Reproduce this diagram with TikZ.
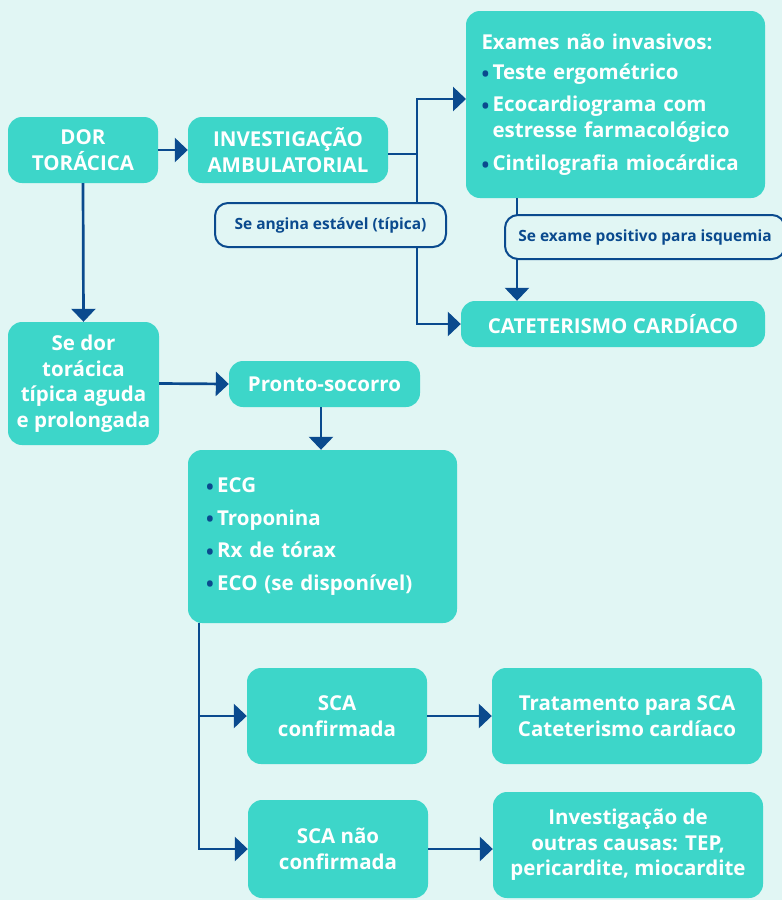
\documentclass[tikz,border=0pt]{standalone}
\usepackage{fontspec}
\setmainfont{Open Sans}
\usetikzlibrary{arrows.meta}
\definecolor{bgmint}{HTML}{E1F6F4}
\definecolor{boxteal}{HTML}{3DD6C9}
\definecolor{darkblue}{HTML}{0A4A8E}
\newcommand{\bul}{\textcolor{darkblue}{\raisebox{-0.15ex}{•}}\,}

\tikzset{
  stepbox/.style={fill=boxteal, rounded corners=14pt, text=white, align=center,
    font=\fontsize{20.5}{25.5}\selectfont\bfseries, inner sep=0pt},
  condbox/.style={fill=bgmint, draw=darkblue, line width=2pt, rounded corners=13pt,
    text=darkblue, font=\fontsize{15.5}{18}\selectfont\bfseries, inner sep=0pt},
  link/.style={draw=darkblue, line width=2.7pt},
  flow/.style={link, -{Triangle[length=13pt,width=24pt]}}
}

\begin{document}
\begin{tikzpicture}[x=1pt, y=-1pt]
    \fill[bgmint] (0,0) rectangle (782,900);
    \useasboundingbox (0,0) rectangle (782,900);

    % ambulatory branch
    \node[stepbox, minimum width=150, minimum height=66] (dor) at (83,150) {DOR\\TORÁCICA};
    \node[stepbox, minimum width=200, minimum height=66] (amb) at (288,150) {INVESTIGAÇÃO\\AMBULATORIAL};
    \node[stepbox, minimum width=299, minimum height=187, text width=268, align=left,
      font=\fontsize{20.5}{26}\selectfont\bfseries] (exames) at (615.5,104.5)
      {Exames não invasivos:\\[4pt]
       \bul Teste ergométrico\\[6pt]
       \bul Ecocardiograma com\\
       \phantom{\bul}estresse farmacológico\\[7pt]
       \bul Cintilografia miocárdica};
    \node[stepbox, minimum width=304, minimum height=46] (cat) at (613,324) {CATETERISMO CARDÍACO};

    \coordinate (fork) at (417,154);
    \coordinate (exin) at (466,99);
    \coordinate (exout) at (517,198);
    \draw[flow] (dor.east) -- (amb.west);
    \draw[link] (amb.east |- fork) -- (fork);
    \draw[flow] (fork) |- (exin);
    \draw[flow] (fork) |- (cat.west);
    \draw[flow] (exout) -- (exout |- cat.north);

    \node[condbox, minimum width=231, minimum height=44] (angina) at (330.5,225) {Se angina estável (típica)};
    \node[condbox, minimum width=280, minimum height=44] (isq) at (645,237) {Se exame positivo para isquemia};

    % emergency branch
    \node[stepbox, minimum width=151, minimum height=123] (sedor) at (83.5,383.5)
      {Se dor\\torácica\\típica aguda\\e prolongada};
    \node[stepbox, minimum width=191, minimum height=46] (pronto) at (324.5,384) {Pronto-socorro};
    \node[stepbox, minimum width=269, minimum height=173, text width=233, align=left,
      font=\fontsize{20.5}{32.5}\selectfont\bfseries] (exams) at (322.5,536.5)
      {\bul ECG\\
       \bul Troponina\\
       \bul Rx de tórax\\
       \bul ECO (se disponível)};

    \draw[flow] (dor.south) -- (sedor.north);
    \draw[flow] (sedor.east) -- (pronto.west);
    \draw[flow] (pronto.south -| 321,0) -- (exams.north -| 321,0);

    \node[stepbox, minimum width=180, minimum height=96] (scaok) at (337,716) {SCA\\confirmada};
    \node[stepbox, minimum width=270, minimum height=96] (trat) at (627,716)
      {Tratamento para SCA\\Cateterismo cardíaco};
    \node[stepbox, minimum width=180, minimum height=98] (scano) at (338,849) {SCA não\\confirmada};
    \node[stepbox, minimum width=270, minimum height=106] (outras) at (628,845)
      {Investigação de\\outras causas: TEP,\\pericardite, miocardite};

    \coordinate (trunk) at (199,623);
    \draw[flow] (trunk) |- (scaok.west);
    \draw[flow] (trunk) |- (scano.west);
    \draw[flow] (scaok.east) -- (trat.west);
    \draw[flow] (scano.east) -- (outras.west |- scano.east);
\end{tikzpicture}
\end{document}
